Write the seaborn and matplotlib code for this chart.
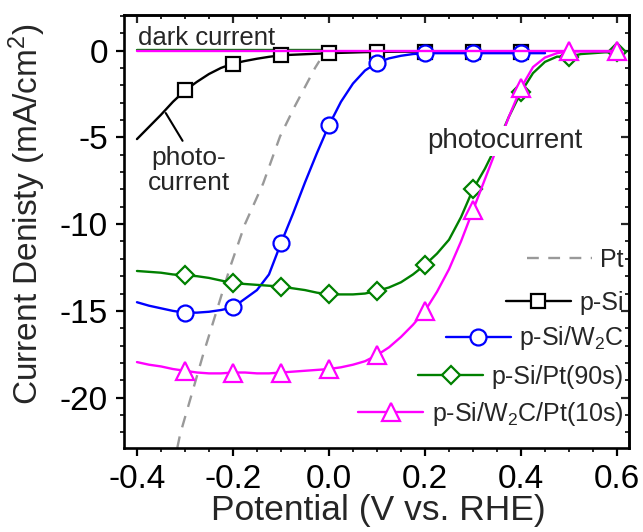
import numpy as np
import pandas as pd
import matplotlib
matplotlib.use("Agg")
import matplotlib.pyplot as plt
import seaborn as sns
from matplotlib.legend import Legend
from matplotlib.ticker import MultipleLocator, FormatStrFormatter

# ---------------- data ----------------
# Pt (dashed grey)
pt_x = [-0.316, -0.31, -0.288, -0.262, -0.234, -0.205, -0.175, -0.137, -0.102, -0.071, -0.05, -0.029, -0.02]
pt_y = [-22.9, -22.1, -20.0, -17.5, -15.0, -12.4, -10.0, -7.65, -4.95, -3.2, -2.1, -1.0, -0.6]

# p-Si (black, squares)
psi_x = [-0.4, -0.375, -0.35, -0.325, -0.3, -0.275, -0.25, -0.225, -0.2, -0.175, -0.15, -0.125,
         -0.1, -0.075, -0.05, -0.025, 0.0, 0.025, 0.05, 0.075, 0.1, 0.125, 0.15, 0.175, 0.2,
         0.225, 0.25, 0.275, 0.3, 0.325, 0.35, 0.375, 0.4, 0.425, 0.45]
psi_y = [-5.1, -4.4, -3.7, -2.95, -2.3, -1.8, -1.35, -1.0, -0.75, -0.6, -0.47, -0.36,
         -0.27, -0.24, -0.21, -0.18, -0.15, -0.13, -0.11, -0.09, -0.08, -0.07, -0.06, -0.06, -0.06,
         -0.06, -0.06, -0.06, -0.06, -0.06, -0.06, -0.06, -0.06, -0.06, -0.06]

# p-Si/W2C (blue, circles)
w2c_x = psi_x
w2c_y = [-14.5, -14.7, -14.85, -15.0, -15.1, -15.1, -15.05, -14.95, -14.8, -14.3, -13.8, -12.9,
         -11.1, -9.4, -7.6, -5.9, -4.3, -2.95, -1.9, -1.15, -0.7, -0.45, -0.3, -0.2, -0.15,
         -0.15, -0.15, -0.15, -0.15, -0.15, -0.15, -0.15, -0.15, -0.15, -0.15]

# p-Si/Pt(90s) (green, diamonds)
pt90_x = [-0.4, -0.375, -0.35, -0.325, -0.3, -0.275, -0.25, -0.225, -0.2, -0.175, -0.15, -0.125,
          -0.1, -0.075, -0.05, -0.025, 0.0, 0.025, 0.05, 0.075, 0.1, 0.125, 0.15, 0.175, 0.2,
          0.225, 0.25, 0.275, 0.3, 0.325, 0.35, 0.375, 0.4, 0.425, 0.45, 0.475, 0.5, 0.525,
          0.55, 0.575, 0.6]
pt90_y = [-12.7, -12.75, -12.8, -12.9, -12.95, -13.0, -13.1, -13.25, -13.4, -13.45, -13.5, -13.55,
          -13.6, -13.7, -13.8, -13.95, -14.05, -14.05, -14.05, -14.0, -13.85, -13.65, -13.35, -12.9, -12.35,
          -11.7, -10.9, -9.6, -8.0, -6.8, -5.4, -3.8, -2.4, -1.3, -0.65, -0.35, -0.35, -0.2,
          -0.15, -0.1, -0.1]

# p-Si/W2C/Pt(10s) (magenta, triangles)
w2cpt_x = pt90_x
w2cpt_y = [-17.95, -18.1, -18.2, -18.35, -18.45, -18.55, -18.6, -18.6, -18.55, -18.55, -18.6, -18.6,
           -18.55, -18.5, -18.45, -18.4, -18.35, -18.25, -18.1, -17.9, -17.55, -17.1, -16.5, -15.8, -15.0,
           -13.9, -12.6, -11.0, -9.2, -7.4, -5.6, -3.8, -2.15, -0.95, -0.4, -0.15, -0.05, -0.05,
           -0.05, -0.05, -0.05]

# dark currents
dark_green_x = [-0.4, 0.0]
dark_green_y = [0.05, 0.05]
dark_mag_x = [-0.4, 0.6]
dark_mag_y = [-0.05, -0.05]

# marker positions
marks_short = [-0.3, -0.2, -0.1, 0.0, 0.1, 0.2, 0.3, 0.4]
marks_long = [-0.3, -0.2, -0.1, 0.0, 0.1, 0.2, 0.3, 0.4, 0.5, 0.6]

labels = ["Pt", "p-Si", r"p-Si/W$\mathregular{_2}$C", "p-Si/Pt(90s)",
          r"p-Si/W$\mathregular{_2}$C/Pt(10s)"]
x_ticks = [-0.4, -0.2, 0.0, 0.2, 0.4, 0.6]
y_ticks = [-20, -15, -10, -5, 0]

# ---------------- style ----------------
sns.set_theme(style="ticks")
plt.rcParams["font.family"] = ["Liberation Sans", "DejaVu Sans"]
plt.rcParams["mathtext.fontset"] = "custom"
plt.rcParams["mathtext.rm"] = "Liberation Sans"
plt.rcParams["mathtext.it"] = "Liberation Sans:italic"
plt.rcParams["axes.unicode_minus"] = False

fig = plt.figure(figsize=(6.43, 5.32), dpi=100)
W, H = 643, 532
L, R, T, B = 124, 629, 15, 448
ax = fig.add_axes([L / W, 1 - B / H, (R - L) / W, (B - T) / H])

LW = 1.7
MEW = 1.6


def marker_idx(xs, marks):
    return [i for i, v in enumerate(xs) if any(abs(v - m) < 1e-9 for m in marks)]


def draw(xs, ys, color, z, label=None, marker=None, ms=None, marks=None, ls="-"):
    df = pd.DataFrame({"x": xs, "y": ys})
    kw = dict(color=color, lw=LW, linestyle=ls, zorder=z)
    if marker is not None:
        kw.update(marker=marker, markevery=marker_idx(xs, marks), ms=ms,
                  mfc="white", mec=color, mew=MEW)
    sns.lineplot(data=df, x="x", y="y", ax=ax, estimator=None, sort=False,
                 legend=False, label=label, **kw)
    return ax.lines[-1]


h_pt = draw(pt_x, pt_y, "#999999", 2.0, labels[0], ls=(0, (5, 4)))
draw(dark_green_x, dark_green_y, "#008000", 2.1)
h_psi = draw(psi_x, psi_y, "black", 2.2, labels[1], "s", 10.5, marks_short)
h_w2c = draw(w2c_x, w2c_y, "#0000FF", 2.3, labels[2], "o", 11.5, marks_short)
h_pt90 = draw(pt90_x, pt90_y, "#008000", 2.4, labels[3], "D", 9.0, marks_long)
draw(dark_mag_x, dark_mag_y, "#FF00FF", 2.45)
h_w2cpt = draw(w2cpt_x, w2cpt_y, "#FF00FF", 2.5, labels[4], "^", 13.0, marks_long)

# ---------------- axes ----------------
ax.set_xlim(-0.427, 0.625)
ax.set_ylim(-22.9, 2.05)
ax.set_xticks(x_ticks)
ax.set_yticks(y_ticks)
ax.xaxis.set_minor_locator(MultipleLocator(0.05))
ax.yaxis.set_minor_locator(MultipleLocator(1))
ax.xaxis.set_major_formatter(FormatStrFormatter("%.1f"))
ax.yaxis.set_major_formatter(FormatStrFormatter("%d"))
ax.tick_params(which="major", direction="out", length=5.5, width=1.6, labelsize=24,
               pad=6, colors="black")
ax.tick_params(which="minor", direction="out", length=3, width=1.4)
for s in ax.spines.values():
    s.set_linewidth(1.9)
    s.set_color("black")
    s.set_visible(True)

ident = (lambda v: v, lambda v: v)
top = ax.secondary_xaxis("top", functions=ident)
top.set_xticks(x_ticks)
top.xaxis.set_minor_locator(MultipleLocator(0.05))
top.tick_params(which="major", direction="in", length=5.5, width=1.6, labeltop=False)
top.tick_params(which="minor", direction="in", length=3, width=1.4)
top.spines["top"].set_linewidth(1.9)
right = ax.secondary_yaxis("right", functions=ident)
right.set_yticks(y_ticks)
right.yaxis.set_minor_locator(MultipleLocator(1))
right.tick_params(which="major", direction="in", length=5.5, width=1.6, labelright=False)
right.tick_params(which="minor", direction="in", length=3, width=1.4)
right.spines["right"].set_linewidth(1.9)

ax.set_xlabel("Potential (V vs. RHE)", fontsize=25.5)
ax.set_ylabel("Current Denisty (mA/cm$\\mathregular{^2}$)", fontsize=24)
ax.xaxis.set_label_coords(0.503, -0.106)
ax.yaxis.set_label_coords(-0.15, 0.54)

# ---------------- annotations ----------------
ax.text(-0.398, 0.33, "dark current", fontsize=18.5, ha="left", va="baseline", zorder=5)
ax.text(-0.292, -6.9, "photo-\ncurrent", fontsize=19, ha="center", va="center",
        multialignment="center", linespacing=1.05, zorder=5)
ax.annotate("", xy=(-0.34, -3.6), xytext=(-0.305, -5.2),
            arrowprops=dict(arrowstyle="-", lw=1.5, color="black", shrinkA=0, shrinkB=0))
ax.text(0.366, -5.2, "photocurrent", fontsize=20, ha="center", va="center", zorder=5,
        bbox=dict(facecolor="white", edgecolor="none", pad=1.5))

# ---------------- legend (right aligned, one row each) ----------------
legend_y = [0.434, 0.335, 0.253, 0.164, 0.078]
for h, lab, yy in zip([h_pt, h_psi, h_w2c, h_pt90, h_w2cpt], labels, legend_y):
    leg = Legend(ax, [h], [lab], loc="center right", bbox_to_anchor=(1.0, yy),
                 bbox_transform=ax.transAxes, frameon=False, fontsize=18,
                 handlelength=2.6, handletextpad=0.35, borderpad=0.2, borderaxespad=0.0)
    ax.add_artist(leg)

fig.savefig("out.png", dpi=100)
